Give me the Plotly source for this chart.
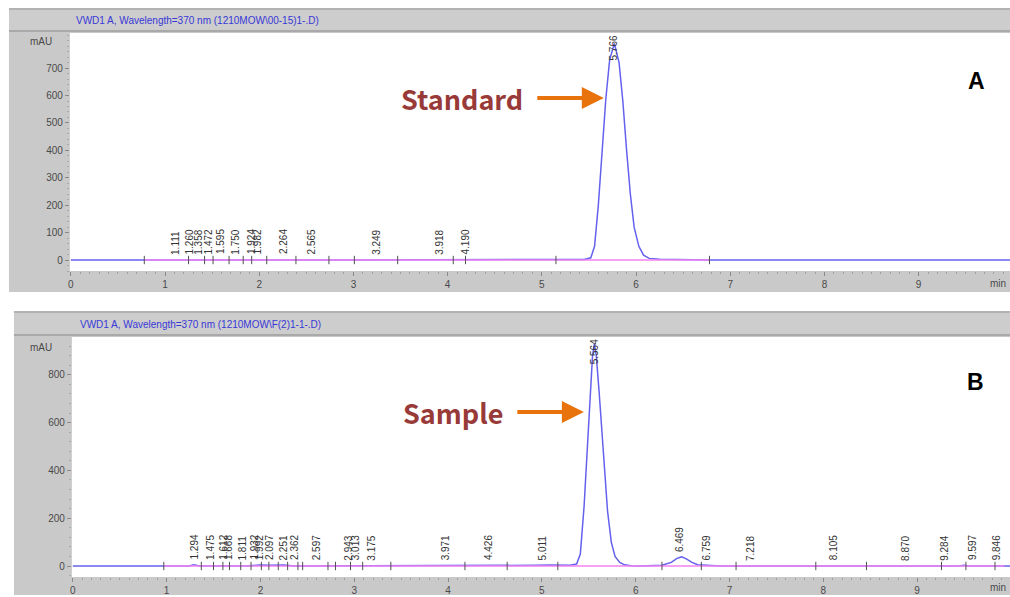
import plotly.graph_objects as go

W, H = 1010, 597

# ---------------- data ----------------
top_title = "VWD1 A, Wavelength=370 nm (1210MOW\\00-15)1-.D)"
bot_title = "VWD1 A, Wavelength=370 nm (1210MOW\\F(2)1-1-.D)"

top_time = [0.0, 0.78, 2.74, 2.80, 2.95, 3.01, 5.15, 5.45, 5.52, 5.56, 5.60, 5.64,
            5.68, 5.72, 5.77, 5.82, 5.86, 5.90, 5.94, 5.98, 6.03, 6.08, 6.14, 6.25,
            6.35, 6.78, 9.97]
top_mau = [0, 0, 0, -2, -2, 0, 2, 2, 8, 50, 200, 400,
           590, 730, 790, 720, 580, 400, 240, 120, 50, 18, 6, 3,
           2, 0, 0]

bot_time = [0.0, 0.97, 1.24, 1.29, 1.35, 1.85, 1.93, 1.99, 2.10, 2.25, 2.36, 2.55,
            2.60, 2.65, 2.90, 2.94, 3.00, 4.85, 4.95, 5.10, 5.20, 5.30, 5.37, 5.41,
            5.45, 5.48, 5.51, 5.54, 5.56, 5.58, 5.61, 5.64, 5.67, 5.70, 5.74, 5.78,
            5.83, 5.88, 5.95, 6.05, 6.28, 6.38, 6.44, 6.49, 6.54, 6.60, 6.66, 6.75,
            6.90, 9.45, 9.50, 9.55, 9.99]
bot_mau = [0, 0, 0, 5, 0, 0, 3, 4, 3, 4, 0, 0,
           3, 0, 0, 3, 0, 0, 3, 4, 3, 3, 8, 50,
           250, 450, 680, 880, 930, 880, 730, 560, 380, 230, 100, 40,
           15, 5, 1, 0, 3, 15, 32, 38, 30, 15, 5, 3,
           0, 0, 3, 0, 0]

top_base_time = [0.78, 6.78]
bot_base_time = [0.97, 9.93]

top_events = [0.78, 1.25, 1.42, 1.51, 1.68, 1.83, 1.92, 2.08, 2.39, 2.74, 3.01,
              3.47, 4.06, 4.19, 5.15, 6.78]
bot_events = [0.97, 1.37, 1.50, 1.60, 1.67, 1.79, 1.90, 2.01, 2.09, 2.19, 2.29,
              2.40, 2.45, 2.72, 2.80, 2.96, 3.09, 3.39, 4.18, 4.63, 5.17, 6.28,
              6.70, 7.07, 7.92, 8.46, 9.26, 9.52, 9.83]

top_peaks = ["1.111", "1.260", "1.358", "1.472", "1.595", "1.750", "1.924", "1.982",
             "2.264", "2.565", "3.249", "3.918", "4.190"]
top_peak_h = [2, 2, 2, 2, 2, 2, 2, 2, 2, 2, 2, 2, 2]
top_main = "5.766"

bot_peaks = ["1.294", "1.475", "1.612", "1.668", "1.811", "1.932", "1.992", "2.097",
             "2.251", "2.362", "2.597", "2.943", "3.013", "3.175", "3.971", "4.426",
             "5.011", "6.469", "6.759", "7.218", "8.105", "8.870", "9.284", "9.597",
             "9.846"]
bot_peak_h = [5, 3, 3, 3, 3, 4, 4, 4, 4, 4, 3, 3, 3, 2, 2, 2,
              4, 38, 4, 2, 2, 2, 2, 3, 3]
bot_main = "5.564"

top_yticks = [0, 100, 200, 300, 400, 500, 600, 700]
bot_yticks = [0, 200, 400, 600, 800]
x_ticks = [0, 1, 2, 3, 4, 5, 6, 7, 8, 9]

# ---------------- helpers ----------------
def px(x):
    return x / W

def py(y):
    return 1 - y / H

BLUE = "#6461ee"
PINK = "#f283f2"
GRAY = "#c9c9c9"

fig = go.Figure()

# chromatograms
fig.add_trace(go.Scatter(x=top_time, y=top_mau, mode="lines",
                         line=dict(color=BLUE, width=1.5), xaxis="x", yaxis="y",
                         hoverinfo="skip"))
fig.add_trace(go.Scatter(x=top_base_time, y=[0] * len(top_base_time), mode="lines",
                         line=dict(color=PINK, width=1.6), xaxis="x", yaxis="y",
                         hoverinfo="skip"))
fig.add_trace(go.Scatter(x=top_events, y=[0] * len(top_events), mode="markers",
                         marker=dict(symbol="line-ns", size=6,
                                     line=dict(color="#505050", width=1)),
                         xaxis="x", yaxis="y", hoverinfo="skip"))

fig.add_trace(go.Scatter(x=bot_time, y=bot_mau, mode="lines",
                         line=dict(color=BLUE, width=1.5), xaxis="x2", yaxis="y2",
                         hoverinfo="skip"))
fig.add_trace(go.Scatter(x=bot_base_time, y=[0] * len(bot_base_time), mode="lines",
                         line=dict(color=PINK, width=1.6), xaxis="x2", yaxis="y2",
                         hoverinfo="skip"))
fig.add_trace(go.Scatter(x=bot_events, y=[0] * len(bot_events), mode="markers",
                         marker=dict(symbol="line-ns", size=6,
                                     line=dict(color="#505050", width=1)),
                         xaxis="x2", yaxis="y2", hoverinfo="skip"))

# ---------------- background panels ----------------
shapes = []
def rect(x0, y0, x1, y1, color):
    shapes.append(dict(type="rect", xref="paper", yref="paper", layer="below",
                       x0=px(x0), x1=px(x1), y0=py(y1), y1=py(y0),
                       fillcolor=color, line=dict(width=0)))

def hline(x0, x1, y, color, width=1):
    shapes.append(dict(type="line", xref="paper", yref="paper", layer="below",
                       x0=px(x0), x1=px(x1), y0=py(y), y1=py(y),
                       line=dict(color=color, width=width)))

# top panel
rect(7, 8, 1010, 292, GRAY)
rect(7, 9, 1010, 31, "#cdcdcd")
hline(7, 1010, 9, "#b2b2b2", 2)
hline(7, 1010, 31, "#a9a9a9", 2)
rect(68, 33, 1010, 271, "white")
# bottom panel
rect(12, 311, 1010, 595, GRAY)
rect(12, 312, 1010, 335, "#cdcdcd")
hline(12, 1010, 312, "#b2b2b2", 2)
hline(12, 1010, 335, "#a9a9a9", 2)
rect(70, 337, 1010, 577, "white")

# ---------------- annotations ----------------
ann = []
tick_font = dict(family="Liberation Sans, Arial", size=10, color="#4a4a4a")

ann.append(dict(text=top_title, xref="paper", yref="paper", x=px(72), y=py(20),
                xanchor="left", yanchor="middle", showarrow=False,
                font=dict(family="Liberation Sans, Arial", size=10, color="#3838d8")))
ann.append(dict(text=bot_title, xref="paper", yref="paper", x=px(76), y=py(324),
                xanchor="left", yanchor="middle", showarrow=False,
                font=dict(family="Liberation Sans, Arial", size=10, color="#3838d8")))
for yy in (42, 347):
    ann.append(dict(text="mAU", xref="paper", yref="paper", x=px(39), y=py(yy),
                    xanchor="center", yanchor="middle", showarrow=False, font=tick_font))
for yy in (283, 587):
    ann.append(dict(text="min", xref="paper", yref="paper", x=px(1008), y=py(yy),
                    xanchor="right", yanchor="middle", showarrow=False, font=tick_font))

lab_font = dict(family="Liberation Sans, Arial", size=10, color="#333333")
for t, h in zip(top_peaks, top_peak_h):
    ann.append(dict(text=t, x=float(t), y=h, xref="x", yref="y", textangle=-90,
                    xanchor="center", yanchor="bottom", yshift=3, showarrow=False,
                    font=lab_font))
ann.append(dict(text=top_main, x=float(top_main), y=1, xref="x", yref="y domain",
                textangle=-90, xanchor="center", yanchor="top", showarrow=False,
                font=lab_font))
for t, h in zip(bot_peaks, bot_peak_h):
    ann.append(dict(text=t, x=float(t), y=h, xref="x2", yref="y2", textangle=-90,
                    xanchor="center", yanchor="bottom", yshift=3, showarrow=False,
                    font=lab_font))
ann.append(dict(text=bot_main, x=float(bot_main), y=1, xref="x2", yref="y2 domain",
                textangle=-90, xanchor="center", yanchor="top", showarrow=False,
                font=lab_font))

# Standard / Sample callouts
big_font = dict(family="Noto Sans CJK KR, Noto Sans", size=27, color="#983a38")
ann.append(dict(text="<b>Standard</b>", xref="paper", yref="paper", x=px(461), y=py(98),
                xanchor="center", yanchor="middle", showarrow=False, font=big_font))
ann.append(dict(text="<b>Sample</b>", xref="paper", yref="paper", x=px(452), y=py(412),
                xanchor="center", yanchor="middle", showarrow=False, font=big_font))
for (xt, yt, length) in ((603, 98, 68), (583, 412, 68)):
    ann.append(dict(text="", xref="paper", yref="paper", x=px(xt), y=py(yt),
                    ax=-length, ay=0, axref="pixel", ayref="pixel", showarrow=True,
                    arrowhead=2, arrowsize=1.1, arrowwidth=4, arrowcolor="#e8720c"))

ann.append(dict(text="<b>A</b>", xref="paper", yref="paper", x=px(976), y=py(81),
                xanchor="center", yanchor="middle", showarrow=False,
                font=dict(family="Liberation Sans, Arial", size=23, color="black")))
ann.append(dict(text="<b>B</b>", xref="paper", yref="paper", x=px(975), y=py(382),
                xanchor="center", yanchor="middle", showarrow=False,
                font=dict(family="Liberation Sans, Arial", size=23, color="black")))

# ---------------- axes ----------------
def xaxis_cfg(domain_left, rng, anchor):
    return dict(domain=[px(domain_left), 1], range=rng, anchor=anchor,
                tickmode="array", tickvals=x_ticks, ticks="outside", ticklen=4,
                tickcolor="#8a8a8a", tickfont=tick_font, showgrid=False,
                zeroline=False, showline=False, fixedrange=True,
                minor=dict(ticks="outside", ticklen=2, dtick=0.1, tickcolor="#a0a0a0",
                           showgrid=False))

def yaxis_cfg(y_top, y_bot, rng, vals, anchor):
    return dict(domain=[py(y_bot), py(y_top)], range=rng, anchor=anchor,
                tickmode="array", tickvals=vals, ticks="outside", ticklen=4,
                tickcolor="#8a8a8a", tickfont=tick_font, showgrid=False,
                zeroline=False, showline=False, fixedrange=True,
                minor=dict(ticks="outside", ticklen=2, tickcolor="#a8a8a8",
                           dtick=(vals[1] - vals[0]) / 5, showgrid=False))

fig.update_layout(
    width=W, height=H,
    margin=dict(l=0, r=0, t=0, b=0),
    paper_bgcolor="white", plot_bgcolor="rgba(0,0,0,0)",
    showlegend=False,
    xaxis=xaxis_cfg(68, [-0.01, 9.97], "y"),
    yaxis=yaxis_cfg(33, 271, [-40, 828], top_yticks, "x"),
    xaxis2=xaxis_cfg(70, [-0.01, 9.99], "y2"),
    yaxis2=yaxis_cfg(337, 577, [-46, 958], bot_yticks, "x2"),
    shapes=shapes,
    annotations=ann,
)

fig.write_html("out.html", config={"displayModeBar": False, "staticPlot": True},
               post_script="document.body.style.margin='0';")
